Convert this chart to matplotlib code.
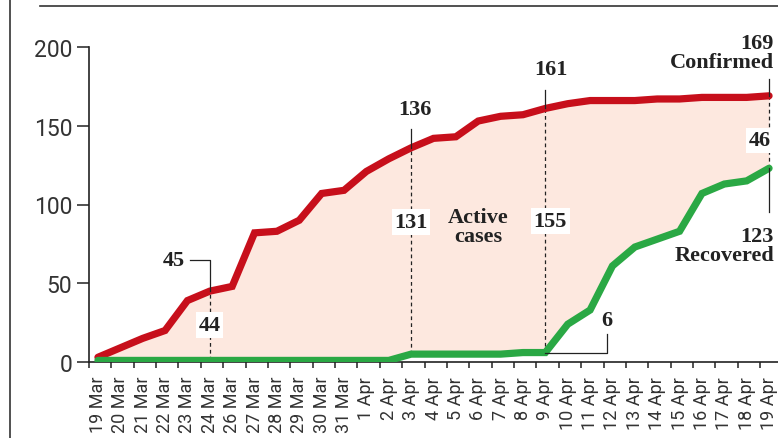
import matplotlib.pyplot as plt
import numpy as np

dates = ['19 Mar', '20 Mar', '21 Mar', '22 Mar', '23 Mar', '24 Mar', '26 Mar',
         '27 Mar', '28 Mar', '29 Mar', '30 Mar', '31 Mar', '1 Apr', '2 Apr',
         '3 Apr', '4 Apr', '5 Apr', '6 Apr', '7 Apr', '8 Apr', '9 Apr', '10 Apr',
         '11 Apr', '12 Apr', '13 Apr', '14 Apr', '15 Apr', '16 Apr', '17 Apr',
         '18 Apr', '19 Apr']
confirmed = [3, 9, 15, 20, 39, 45, 48, 82, 83, 90, 107, 109, 121, 129, 136,
             142, 143, 153, 156, 157, 161, 164, 166, 166, 166, 167, 167, 168,
             168, 168, 169]
recovered = [1, 1, 1, 1, 1, 1, 1, 1, 1, 1, 1, 1, 1, 1, 5,
             5, 5, 5, 5, 6, 6, 24, 33, 61, 73, 78, 83, 107,
             113, 115, 123]
yticks = [0, 50, 100, 150, 200]

RED = '#c70f1b'
GREEN = '#2aa844'
FILL = '#fde8df'
INK = '#222222'
SERIF = 'Liberation Serif'

x = np.arange(len(dates))
conf = np.array(confirmed)
rec = np.array(recovered)

fig = plt.figure(figsize=(7.78, 4.39), dpi=100)
ax = fig.add_axes([89/778, 76/439, 689/778, 315/439])

ax.fill_between(x, rec, conf, color=FILL, lw=0, zorder=1)
ax.plot(x, conf, color=RED, lw=5.2, solid_capstyle='round', solid_joinstyle='miter', zorder=4)
ax.plot(x, rec, color=GREEN, lw=5.2, solid_capstyle='round', solid_joinstyle='miter', zorder=4)

ax.set_xlim(-0.4, 30.4)
ax.set_ylim(0, 200)
for s in ['top', 'right']:
    ax.spines[s].set_visible(False)
ax.spines['left'].set_bounds(0, 200)
ax.spines['left'].set_color(INK)
ax.spines['bottom'].set_color(INK)
ax.spines['left'].set_linewidth(1.2)
ax.spines['bottom'].set_linewidth(1.2)

ax.set_yticks(yticks)
ax.tick_params(axis='y', length=8.5, width=1.1, color=INK, pad=3.5,
               labelsize=16.5, labelcolor='#333333')
ax.set_xticks(x)
ax.set_xticklabels(dates, rotation=90)
ax.tick_params(axis='x', which='major', length=0, pad=10, labelsize=13, labelcolor='#333333')
ax.set_xticks(x - 0.4, minor=True)
ax.tick_params(axis='x', which='minor', length=4.5, width=1.1, color=INK)
for lab in ax.get_xticklabels() + ax.get_yticklabels():
    lab.set_family('Roboto')
    lab.set_fontweight('normal')

txt = dict(family=SERIF, fontweight='bold', color=INK, fontsize=16)
box = dict(boxstyle='square,pad=0.12', fc='white', ec='none')

# dashed "active" markers
for i in [5, 14, 20, 30]:
    ax.plot([i, i], [rec[i], conf[i]], color=INK, lw=0.9, ls=(0, (3, 2.5)), zorder=3)

# 24 Mar
i = 5
ax.annotate(str(conf[i]), xy=(i, conf[i]), xytext=(-36, 31), textcoords='offset pixels',
            ha='center', va='center', **txt)
ax.plot([i - 0.9, i, i], [conf[i] + 19.5, conf[i] + 19.5, conf[i]], color=INK, lw=0.9, zorder=5)
ax.annotate(str(conf[i] - rec[i]), xy=(i, 0), xytext=(0, 37), textcoords='offset pixels',
            ha='center', va='center', bbox=box, zorder=6, **txt)

# 3 Apr and 9 Apr
for i, dx in [(14, 4), (20, 6)]:
    ax.plot([i, i], [conf[i], conf[i] + 12], color=INK, lw=0.9, zorder=5)
    ax.annotate(str(conf[i]), xy=(i, conf[i]), xytext=(dx, 39), textcoords='offset pixels',
                ha='center', va='center', **txt)
ax.annotate(str(conf[14] - rec[14]), xy=(14, 0), xytext=(0, 140), textcoords='offset pixels',
            ha='center', va='center', bbox=box, zorder=6, **txt)
ax.annotate(str(conf[20] - rec[20]), xy=(20, 0), xytext=(5, 141), textcoords='offset pixels',
            ha='center', va='center', bbox=box, zorder=6, **txt)

# recovered on 9 Apr
i = 20
ax.plot([i, i + 2.75, i + 2.75], [rec[i] - 0.5, rec[i] - 0.5, rec[i] + 12], color=INK, lw=0.9, zorder=5)
ax.annotate(str(rec[i]), xy=(i + 2.75, rec[i]), xytext=(0, 33), textcoords='offset pixels',
            ha='center', va='center', **txt)

ax.text(17.0, 86, 'Active\ncases', ha='center', va='center', linespacing=0.95, **txt)

# last day
i = 30
ax.plot([i, i], [conf[i], conf[i] + 11], color=INK, lw=0.9, zorder=5)
ax.annotate('%d\nConfirmed' % conf[i], xy=(i, conf[i]), xytext=(5, 43), textcoords='offset pixels',
            ha='right', va='center', linespacing=0.95, **txt)
ax.annotate(str(conf[i] - rec[i]), xy=(i, rec[i]), xytext=(-9, 28), textcoords='offset pixels',
            ha='center', va='center', bbox=box, zorder=6, **txt)
ax.plot([i, i], [rec[i], rec[i] - 28], color=INK, lw=0.9, zorder=5)
ax.annotate('%d\nRecovered' % rec[i], xy=(i, rec[i]), xytext=(5, -77), textcoords='offset pixels',
            ha='right', va='center', linespacing=0.95, **txt)

# frame lines of the graphic
fig.add_artist(plt.Line2D([10/778, 10/778], [0, 1], color='#333333', lw=1.2))
fig.add_artist(plt.Line2D([40/778, 1], [1 - 7/439, 1 - 7/439], color='#333333', lw=1.2))

fig.savefig('out.png', dpi=100)
